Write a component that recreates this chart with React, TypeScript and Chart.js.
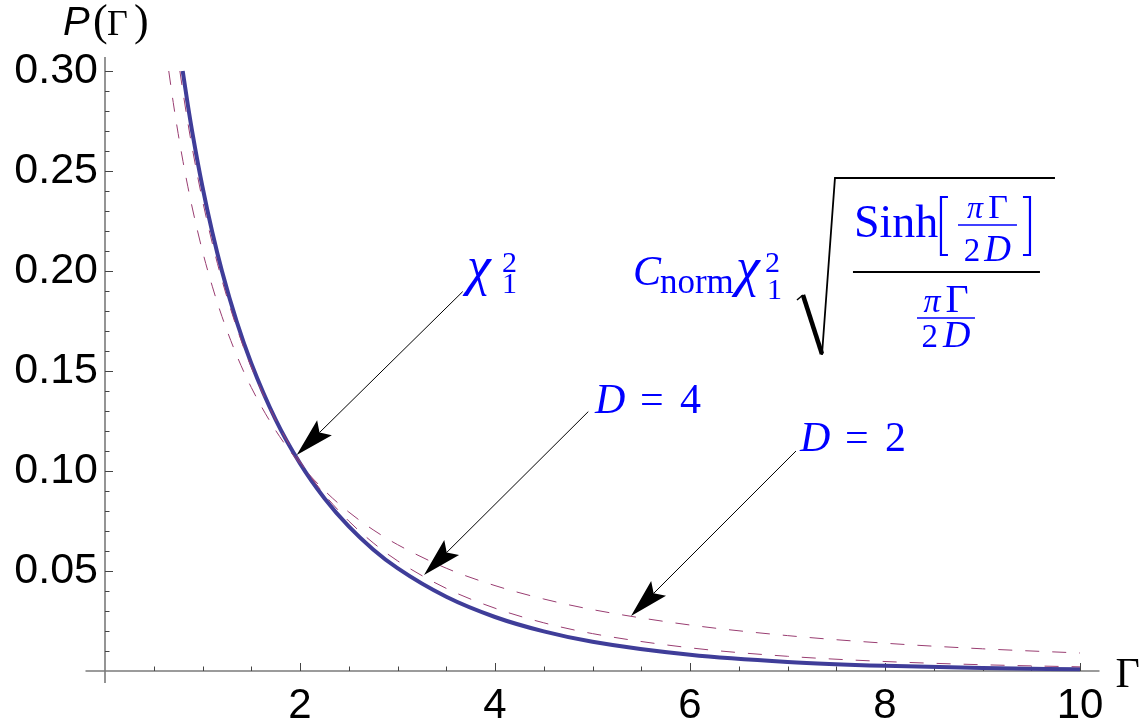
import React, { useEffect, useRef } from "react";
import { Chart, registerables } from "chart.js";

Chart.register(...registerables);

// ---- data ----
const chiX = [0.797, 0.85, 0.9, 1.0, 1.1, 1.2, 1.35, 1.5, 1.75, 2.0, 2.25, 2.5, 2.75, 3.0, 3.5, 4.0, 4.5, 5, 6, 7, 8, 9, 10];
const chiY = [0.3, 0.2829, 0.2681, 0.242, 0.2195, 0.1999, 0.1748, 0.1539, 0.1257, 0.1038, 0.0864, 0.0723, 0.0608, 0.0514, 0.0371, 0.027, 0.0198, 0.0146, 0.0081, 0.00455, 0.00258, 0.00148, 0.00085];

const d4X = [0.768, 0.8, 0.85, 0.9, 1.0, 1.1, 1.2, 1.35, 1.5, 1.75, 2.0, 2.25, 2.5, 2.75, 3.0, 3.5, 4.0, 4.5, 5, 6, 7, 8, 9, 10];
const d4Y = [0.3, 0.2894, 0.2741, 0.2601, 0.2353, 0.214, 0.1954, 0.1718, 0.152, 0.1255, 0.1048, 0.0883, 0.075, 0.0641, 0.0551, 0.0413, 0.0314, 0.0241, 0.0187, 0.0116, 0.00735, 0.00475, 0.00313, 0.00207];

const d2X = [0.654, 0.7, 0.75, 0.8, 0.85, 0.9, 1.0, 1.1, 1.2, 1.35, 1.5, 1.75, 2.0, 2.25, 2.5, 2.75, 3.0, 3.5, 4.0, 4.5, 5, 6, 7, 8, 9, 10];
const d2Y = [0.3, 0.2842, 0.2688, 0.2548, 0.2421, 0.2305, 0.2099, 0.1924, 0.1772, 0.1579, 0.1418, 0.1203, 0.1036, 0.0903, 0.0795, 0.0706, 0.0632, 0.0514, 0.0427, 0.036, 0.0307, 0.023, 0.0177, 0.0139, 0.0111, 0.009];

const xTickValues = [2, 4, 6, 8, 10];
const xTickLabels = ["2", "4", "6", "8", "10"];
const yTickValues = [0.05, 0.1, 0.15, 0.2, 0.25, 0.3];
const yTickLabels = ["0.05", "0.10", "0.15", "0.20", "0.25", "0.30"];

// axis extents (data units)
const xAxisRange = [-0.2, 10.2];
const yAxisRange = [-0.006, 0.307];

// annotation arrows: tail -> tip (data units)
const arrowTailX = [3.669, 4.957, 7.087];
const arrowTailY = [0.1897, 0.1297, 0.11];
const arrowTipX = [1.966, 3.272, 5.395];
const arrowTipY = [0.108, 0.048, 0.0275];

// label anchors (data units: left edge, baseline)
const chiLabelAt = [3.744, 0.1935];
const dLabelX = [5.026, 7.128];
const dLabelY = [0.129, 0.11];
const dLabelText = ["4", "2"];
const formulaAt = [5.415, 0.193];

const BLUE_LINE = "#3f3d99";
const DASH = "#993d71";
const TXT = "#0000ff";
const SERIF = '"Liberation Serif", "Times New Roman", serif';
const SANS = '"Liberation Sans", Arial, Helvetica, sans-serif';

function pts(xs: number[], ys: number[]) {
  return xs.map((v, i) => ({ x: v, y: ys[i] }));
}

function drawArrow(ctx: CanvasRenderingContext2D, tx: number, ty: number, hx: number, hy: number) {
  const dx = hx - tx;
  const dy = hy - ty;
  const len = Math.hypot(dx, dy);
  const ux = dx / len;
  const uy = dy / len;
  const nx = -uy;
  const ny = ux;
  const L = 39;
  const W = 10.5;
  const N = 32;
  ctx.strokeStyle = "#000";
  ctx.fillStyle = "#000";
  ctx.lineWidth = 1;
  ctx.beginPath();
  ctx.moveTo(tx, ty);
  ctx.lineTo(hx - ux * N, hy - uy * N);
  ctx.stroke();
  ctx.beginPath();
  ctx.moveTo(hx, hy);
  ctx.lineTo(hx - ux * L + nx * W, hy - uy * L + ny * W);
  ctx.lineTo(hx - ux * N, hy - uy * N);
  ctx.lineTo(hx - ux * L - nx * W, hy - uy * L - ny * W);
  ctx.closePath();
  ctx.fill();
}

function text(ctx: CanvasRenderingContext2D, s: string, x: number, y: number, font: string, color: string) {
  ctx.font = font;
  ctx.fillStyle = color;
  ctx.fillText(s, x, y);
}

function centered(ctx: CanvasRenderingContext2D, parts: { s: string; font: string; gap?: number }[], cx: number, y: number, color: string) {
  let total = 0;
  const widths = parts.map((p) => {
    ctx.font = p.font;
    const w = ctx.measureText(p.s).width;
    total += w + (p.gap || 0);
    return w;
  });
  let x = cx - total / 2;
  parts.forEach((p, i) => {
    text(ctx, p.s, x, y, p.font, color);
    x += widths[i] + (p.gap || 0);
  });
}

const axesPlugin = {
  id: "mAxes",
  beforeDatasetsDraw(chart: any) {
    const { ctx, scales } = chart;
    const xs = scales.x;
    const ys = scales.y;
    const x0 = xs.getPixelForValue(0);
    const y0 = ys.getPixelForValue(0);
    ctx.save();
    ctx.strokeStyle = "#7a7a7a";
    ctx.lineWidth = 1.6;
    ctx.beginPath();
    ctx.moveTo(xs.getPixelForValue(xAxisRange[0]), y0);
    ctx.lineTo(xs.getPixelForValue(xAxisRange[1]), y0);
    ctx.stroke();
    ctx.beginPath();
    ctx.moveTo(x0, ys.getPixelForValue(yAxisRange[0]));
    ctx.lineTo(x0, ys.getPixelForValue(yAxisRange[1]));
    ctx.stroke();
    ctx.strokeStyle = "#444";
    ctx.lineWidth = 1;
    for (let k = 1; k <= 20; k++) {
      const v = k * 0.5;
      const px = Math.round(xs.getPixelForValue(v)) + 0.5;
      const len = k % 4 === 0 ? 8 : 4.5;
      ctx.beginPath();
      ctx.moveTo(px, y0);
      ctx.lineTo(px, y0 - len);
      ctx.stroke();
    }
    for (let k = 1; k <= 30; k++) {
      const v = k * 0.01;
      const py = Math.round(ys.getPixelForValue(v)) + 0.5;
      const len = k % 5 === 0 ? 8 : 4.5;
      ctx.beginPath();
      ctx.moveTo(x0, py);
      ctx.lineTo(x0 + len, py);
      ctx.stroke();
    }
    ctx.restore();
  },
};

const annotPlugin = {
  id: "mAnnot",
  afterDraw(chart: any) {
    const { ctx, scales } = chart;
    const xs = scales.x;
    const ys = scales.y;
    const X = (v: number) => xs.getPixelForValue(v);
    const Y = (v: number) => ys.getPixelForValue(v);
    ctx.save();
    ctx.textAlign = "left";
    ctx.textBaseline = "alphabetic";

    // axis labels
    const ax = X(0);
    const ay = Y(yAxisRange[1]);
    text(ctx, "P", ax - 42, ay - 22, `italic 40px ${SANS}`, "#000");
    text(ctx, "(", ax - 12, ay - 22, `44px ${SERIF}`, "#000");
    text(ctx, "\u0393", ax + 2, ay - 22, `36px ${SERIF}`, "#000");
    text(ctx, ")", ax + 29, ay - 22, `44px ${SERIF}`, "#000");
    text(ctx, "\u0393", X(xAxisRange[1]) + 16, Y(0) + 16, `42px ${SERIF}`, "#000");

    // arrows
    for (let i = 0; i < arrowTailX.length; i++) {
      drawArrow(ctx, X(arrowTailX[i]), Y(arrowTailY[i]), X(arrowTipX[i]), Y(arrowTipY[i]));
    }

    // chi label
    const cx = X(chiLabelAt[0]);
    const cy = Y(chiLabelAt[1]);
    text(ctx, "\u03C7", cx - 3, cy, `italic 54px ${SERIF}`, TXT);
    text(ctx, "2", cx + 32, cy - 12, `30px ${SERIF}`, TXT);
    text(ctx, "1", cx + 32, cy + 9, `30px ${SERIF}`, TXT);

    // D labels
    for (let i = 0; i < dLabelX.length; i++) {
      const lx = X(dLabelX[i]);
      const ly = Y(dLabelY[i]);
      text(ctx, "D", lx, ly, `italic 42px ${SERIF}`, TXT);
      text(ctx, "=", lx + 45, ly, `42px ${SERIF}`, TXT);
      text(ctx, dLabelText[i], lx + 85, ly, `42px ${SERIF}`, TXT);
    }

    // formula
    const fx = X(formulaAt[0]);
    const fy = Y(formulaAt[1]);
    text(ctx, "C", fx, fy, `italic 42px ${SERIF}`, TXT);
    text(ctx, "norm", fx + 27, fy + 8, `35px ${SERIF}`, TXT);
    text(ctx, "\u03C7", fx + 103, fy, `italic 54px ${SERIF}`, TXT);
    text(ctx, "2", fx + 132, fy - 13, `30px ${SERIF}`, TXT);
    text(ctx, "1", fx + 134, fy + 14, `30px ${SERIF}`, TXT);

    // radical
    ctx.strokeStyle = "#000";
    ctx.lineCap = "butt";
    ctx.lineWidth = 1.5;
    ctx.beginPath();
    ctx.moveTo(fx + 164, fy + 15);
    ctx.lineTo(fx + 170, fy + 10);
    ctx.stroke();
    ctx.lineWidth = 4.5;
    ctx.beginPath();
    ctx.moveTo(fx + 170, fy + 10);
    ctx.lineTo(fx + 189, fy + 69);
    ctx.stroke();
    ctx.lineWidth = 1.8;
    ctx.beginPath();
    ctx.moveTo(fx + 189, fy + 70);
    ctx.lineTo(fx + 202, fy - 107);
    ctx.lineTo(fx + 422, fy - 107);
    ctx.stroke();

    // main fraction bar
    ctx.lineWidth = 2;
    ctx.beginPath();
    ctx.moveTo(fx + 220, fy - 13);
    ctx.lineTo(fx + 407, fy - 13);
    ctx.stroke();

    // numerator: Sinh[ pi Gamma / 2 D ]
    text(ctx, "Sinh", fx + 221, fy - 48, `46px ${SERIF}`, TXT);
    ctx.strokeStyle = TXT;
    ctx.lineWidth = 2.2;
    ctx.beginPath();
    ctx.moveTo(fx + 315, fy - 88);
    ctx.lineTo(fx + 308, fy - 88);
    ctx.lineTo(fx + 308, fy - 30);
    ctx.lineTo(fx + 315, fy - 30);
    ctx.stroke();
    ctx.beginPath();
    ctx.moveTo(fx + 390, fy - 88);
    ctx.lineTo(fx + 397, fy - 88);
    ctx.lineTo(fx + 397, fy - 30);
    ctx.lineTo(fx + 390, fy - 30);
    ctx.stroke();
    ctx.lineWidth = 1.6;
    ctx.beginPath();
    ctx.moveTo(fx + 325, fy - 60);
    ctx.lineTo(fx + 384, fy - 60);
    ctx.stroke();
    centered(ctx, [{ s: "\u03C0", font: `italic 32px ${SERIF}`, gap: 5 }, { s: "\u0393", font: `34px ${SERIF}` }], fx + 354.5, fy - 67, TXT);
    centered(ctx, [{ s: "2", font: `33px ${SERIF}`, gap: 4 }, { s: "D", font: `italic 37px ${SERIF}` }], fx + 354.5, fy - 24, TXT);

    // denominator: pi Gamma / 2 D
    ctx.beginPath();
    ctx.moveTo(fx + 284, fy + 33);
    ctx.lineTo(fx + 342, fy + 33);
    ctx.stroke();
    centered(ctx, [{ s: "\u03C0", font: `italic 34px ${SERIF}`, gap: 5 }, { s: "\u0393", font: `40px ${SERIF}` }], fx + 313, fy + 27, TXT);
    centered(ctx, [{ s: "2", font: `33px ${SERIF}`, gap: 5 }, { s: "D", font: `italic 38px ${SERIF}` }], fx + 313, fy + 62, TXT);

    ctx.restore();
  },
};

export default function App() {
  const ref = useRef<HTMLCanvasElement | null>(null);
  useEffect(() => {
    if (!ref.current) return;
    const chart = new Chart(ref.current, {
      type: "line",
      data: {
        datasets: [
          {
            data: pts(d2X, d2Y),
            borderColor: DASH,
            borderWidth: 1,
            borderDash: [14, 13],
            pointRadius: 0,
            cubicInterpolationMode: "monotone",
            fill: false,
            clip: false,
          } as any,
          {
            data: pts(d4X, d4Y),
            borderColor: DASH,
            borderWidth: 1,
            borderDash: [14, 13],
            pointRadius: 0,
            cubicInterpolationMode: "monotone",
            fill: false,
            clip: false,
          } as any,
          {
            data: pts(chiX, chiY),
            borderColor: BLUE_LINE,
            borderWidth: 4,
            pointRadius: 0,
            cubicInterpolationMode: "monotone",
            fill: false,
            clip: false,
          } as any,
        ],
      },
      options: {
        animation: false,
        responsive: false,
        devicePixelRatio: 1,
        events: [],
        layout: { padding: { left: 0, top: 71, right: 48.5, bottom: 0 } },
        plugins: { legend: { display: false }, tooltip: { enabled: false } },
        scales: {
          x: {
            type: "linear",
            min: 0,
            max: 10.2,
            position: "bottom",
            grid: { display: false, drawTicks: false },
            border: { display: false },
            afterFit: (s: any) => {
              s.height = 56;
            },
            afterBuildTicks: (s: any) => {
              s.ticks = xTickValues.map((v) => ({ value: v }));
            },
            ticks: {
              autoSkip: false,
              maxRotation: 0,
              padding: 10,
              color: "#000",
              font: { family: SANS, size: 42 },
              callback: (_v: any, i: number) => xTickLabels[i],
            },
          },
          y: {
            type: "linear",
            min: 0,
            max: 0.3,
            position: "left",
            grid: { display: false, drawTicks: false },
            border: { display: false },
            afterFit: (s: any) => {
              s.width = 105;
            },
            afterBuildTicks: (s: any) => {
              s.ticks = yTickValues.map((v) => ({ value: v }));
            },
            ticks: {
              autoSkip: false,
              padding: 7,
              color: "#000",
              font: { family: SANS, size: 43 },
              callback: (_v: any, i: number) => yTickLabels[i],
            },
          },
        },
      } as any,
      plugins: [axesPlugin, annotPlugin],
    });
    return () => chart.destroy();
  }, []);
  return (
    <div style={{ position: "fixed", left: 0, top: 0, width: 1148, height: 727, background: "#fff" }}>
      <canvas ref={ref} width={1148} height={727} style={{ display: "block", width: 1148, height: 727 }} />
    </div>
  );
}
